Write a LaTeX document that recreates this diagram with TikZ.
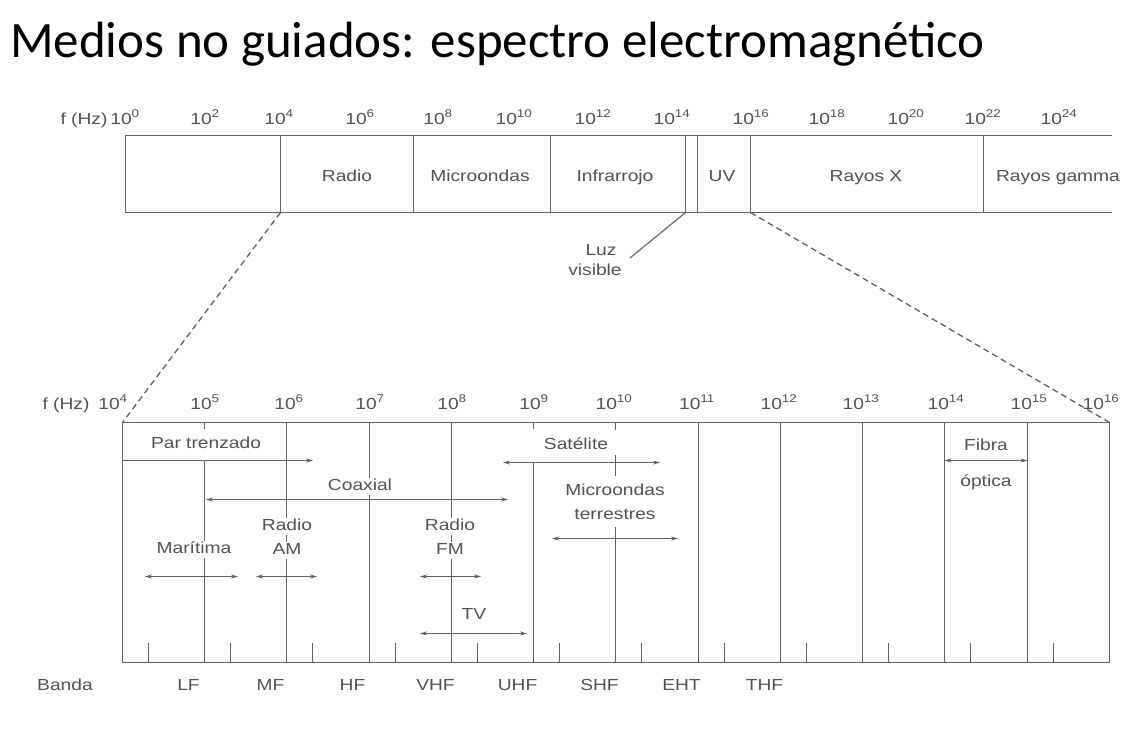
\documentclass[tikz,border=0pt]{standalone}
\usepackage{fontspec}
\setmainfont{Liberation Sans}
\newfontfamily\titlefont{Carlito}
\newfontfamily\labfont[FakeStretch=1.2]{Liberation Sans}
\usetikzlibrary{arrows.meta}
\definecolor{ink}{gray}{0.32}
\definecolor{lineink}{gray}{0.38}
\newcommand\tenp[1]{10\textsuperscript{#1}}
\begin{document}
\begin{tikzpicture}[x=1pt,y=-1pt,
  lab/.style={font=\labfont\fontsize{16}{18}\selectfont, text=ink, inner sep=1pt, text height=11.5pt, text depth=3.5pt},
  labw/.style={lab, fill=white},
  frame/.style={draw=lineink, line width=1.3pt},
  thin/.style={draw=lineink, line width=1.1pt},
  rng/.style={draw=lineink, line width=0.9pt, {Stealth[length=7pt,width=4pt]}-{Stealth[length=7pt,width=4pt]}},
  rngr/.style={draw=lineink, line width=0.9pt, -{Stealth[length=7pt,width=4pt]}},
  zoomline/.style={draw=lineink, line width=1.3pt, dash pattern=on 6pt off 4pt},
]
\useasboundingbox[fill=white] (0,0) rectangle (1147,731);

% title
\node[anchor=base west, font=\titlefont\fontsize{51}{60}\selectfont, inner sep=0] (title) at (10,57) {Medios no guiados: espectro electromagnético};

% ---------- top bar ----------
\coordinate (tbTL) at (125.5,135.5);
\coordinate (tbBL) at (125.5,212.5);
\coordinate (tbTR) at (1112,135.5);
\coordinate (tbBR) at (1112,212.5);
\draw[frame] (tbTR) -- (tbTL) -- (tbBL) -- (tbBR);
\foreach \x [count=\i] in {280.5,413.5,550.5,685.5,697.5,750.5,983.5}{
  \coordinate (dt\i) at (\x,135.5);
  \coordinate (db\i) at (\x,212.5);
  \draw[frame] (dt\i) -- (db\i);
}

\node[lab] (fhz) at (84,120) {f (Hz)};
\foreach \x/\e [count=\i] in {125/0,205/2,279/4,360/6,438/8,514/10,593/12,672/14,751/16,827/18,906/20,983/22,1059/24}{
  \node[lab] (tl\i) at (\x,120) {\tenp{\e}};
}

\node[lab] (radio) at (347,177) {Radio};
\node[lab] (micro) at (480,177) {Microondas};
\node[lab] (infra) at (615,177) {Infrarrojo};
\node[lab] (uv) at (722,177) {UV};
\node[lab] (rayx) at (866,177) {Rayos X};
\node[lab] (gamma) at (1058,177) {Rayos gamma};

\node[lab] (luz) at (601,251) {Luz};
\node[lab] (visible) at (595,271) {visible};
\coordinate (luzend) at (630,258);
\draw[thin] (luzend) -- (db4);

% ---------- lower box ----------
% decade x positions (10^4 ... 10^16)
\def\xs{{122.5,204.5,286.5,369.5,451.5,533.5,615.5,698.5,780.5,862.5,944.5,1027.5,1109.5}}
\coordinate (bTL) at (122.5,422.5);
\coordinate (bBR) at (1109.5,662.5);
\coordinate (bTR) at (1109.5,422.5);
\draw[frame] (bTL) rectangle (bBR);

% zoom lines
\draw[zoomline] (db1) -- (bTL);
\draw[zoomline] (db6) -- (bTR);

% decade lines
\foreach \k in {2,3,4,7,8,9,10,11}{
  \pgfmathsetmacro\xx{\xs[\k]}
  \draw[thin] (\xx,422.5) -- (\xx,662.5);
}
% 10^5
\draw[thin] (204.5,422.5) -- (204.5,429);
\draw[thin] (204.5,460) -- (204.5,662.5);
% 10^9
\draw[thin] (533.5,422.5) -- (533.5,429);
\draw[thin] (533.5,462) -- (533.5,662.5);
% 10^10
\draw[thin] (615.5,422.5) -- (615.5,430);
\draw[thin] (615.5,455) -- (615.5,476);
\draw[thin] (615.5,527) -- (615.5,662.5);

% bottom ticks
\foreach \k in {0,...,11}{
  \pgfmathsetmacro\xx{\xs[\k]+26}
  \draw[thin] (\xx,643) -- (\xx,662.5);
}

% frequency labels lower
\node[lab] (fhz2) at (66,405) {f (Hz)};
\foreach \x/\e [count=\i] in {113/4,205/5,289/6,370/7,452/8,534/9,614/10,697/11,779/12,861/13,946/14,1029/15,1101/16}{
  \node[lab] (bl\i) at (\x,405) {\tenp{\e}};
}

% ranges
\coordinate (ptA) at (122.5,460.5); \coordinate (ptB) at (313,460.5);
\draw[rngr] (ptA) -- (ptB);
\coordinate (cxA) at (206,499.5); \coordinate (cxB) at (508,499.5);
\draw[rng] (cxA) -- (cxB);
\coordinate (maA) at (145,576.5); \coordinate (maB) at (238,576.5);
\draw[rng] (maA) -- (maB);
\coordinate (amA) at (256,576.5); \coordinate (amB) at (317,576.5);
\draw[rng] (amA) -- (amB);
\coordinate (fmA) at (420,576.5); \coordinate (fmB) at (481,576.5);
\draw[rng] (fmA) -- (fmB);
\coordinate (tvA) at (420,633.5); \coordinate (tvB) at (527,633.5);
\draw[rng] (tvA) -- (tvB);
\coordinate (saA) at (503,462.5); \coordinate (saB) at (660,462.5);
\draw[rng] (saA) -- (saB);
\coordinate (mtA) at (552,538.5); \coordinate (mtB) at (678,538.5);
\draw[rng] (mtA) -- (mtB);
\coordinate (foA) at (944.5,460.5); \coordinate (foB) at (1027.5,460.5);
\draw[rng] (foA) -- (foB);

% range texts
\node[labw] (par) at (206,444) {Par trenzado};
\node[labw] (coax) at (360,486) {Coaxial};
\node[labw] (mar) at (194,549) {Marítima};
\node[labw] (ram1) at (287,526) {Radio};
\node[labw] (ram2) at (287,550) {AM};
\node[labw] (rfm1) at (450,526) {Radio};
\node[labw] (rfm2) at (450,550) {FM};
\node[labw] (tv) at (474,615) {TV};
\node[labw] (sat) at (576,445) {Satélite};
\node[labw] (mic1) at (615,491) {Microondas};
\node[labw] (mic2) at (615,515) {terrestres};
\node[labw] (fib1) at (986,446) {Fibra};
\node[labw] (fib2) at (986,482) {óptica};

% band labels
\node[lab] (banda) at (65,686) {Banda};
\foreach \b [count=\i from 0] in {LF,MF,HF,VHF,UHF,SHF,EHT,THF}{
  \pgfmathsetmacro\xx{\xs[\i]+66}
  \node[lab] (band\i) at (\xx,686) {\b};
}
\end{tikzpicture}
\end{document}
